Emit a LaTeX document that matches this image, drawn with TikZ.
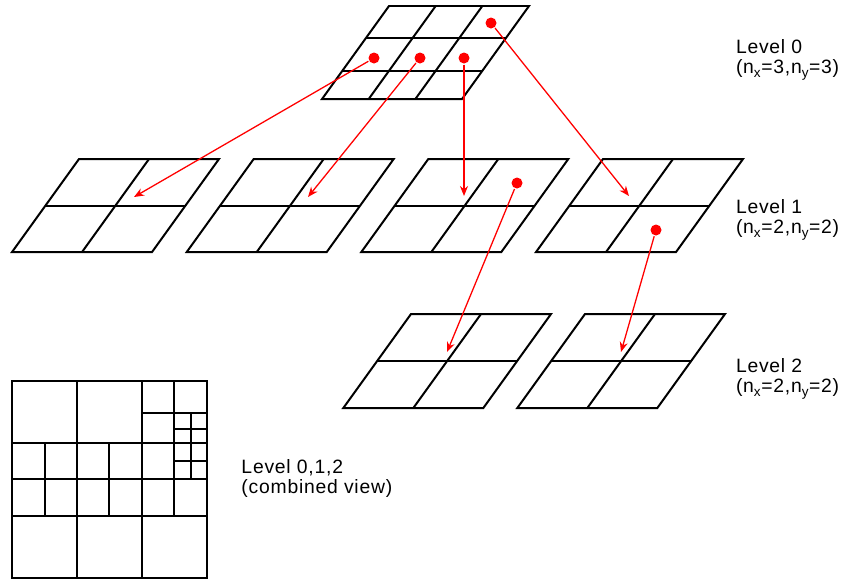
\documentclass[tikz,border=0pt]{standalone}
\usepackage{fontspec}
\setmainfont{Liberation Sans}
\newfontfamily\lblfont[LetterSpace=4]{Liberation Sans}
\usetikzlibrary{arrows.meta}

\begin{document}
\begin{tikzpicture}[x=0.03cm,y=-0.03cm,line width=1.7pt,
	dot/.style={circle,fill=red,draw=none,inner sep=0pt,minimum size=0.33cm},
	link/.style={red,line width=1.1pt,-{Stealth[length=0.3cm,width=0.24cm]}},
	lbl/.style={anchor=north west,inner sep=0pt,align=left,font=\lblfont\fontsize{16.5pt}{17.9pt}\selectfont}]
	\useasboundingbox (0,0) rectangle (843,579);

	% level 0
	\begin{scope}[shift={(389,6)},xslant=0.72]
		\draw (0,0) rectangle (140,93);
		\foreach \i in {1,2} {
			\draw (\i*46.67,0) -- (\i*46.67,93);
		}
		\foreach \y in {32,65} {
			\draw (0,\y) -- (140,\y);
		}
	\end{scope}

	% level 1
	\foreach \px in {79,253.7,428.3,603} {
		\begin{scope}[shift={(\px,159)},xslant=0.72]
			\draw (0,0) rectangle (140,93);
			\draw (70,0) -- (70,93);
			\draw (0,46.5) -- (140,46.5);
		\end{scope}
	}

	% level 2
	\foreach \px in {411,585} {
		\begin{scope}[shift={(\px,314)},xslant=0.72]
			\draw (0,0) rectangle (140,94);
			\draw (70,0) -- (70,94);
			\draw (0,47) -- (140,47);
		\end{scope}
	}

	% combined view
	\draw (12,381) rectangle (207,578);
	\foreach \x in {77,142} {
		\draw (\x,381) -- (\x,578);
	}
	\foreach \y in {443,479,516} {
		\draw (12,\y) -- (207,\y);
	}
	\foreach \x in {45,109} {
		\draw (\x,443) -- (\x,516);
	}
	\draw (174,381) -- (174,516);
	\draw (142,413) -- (207,413);
	\draw (191,413) -- (191,479);
	\foreach \y in {429,461} {
		\draw (174,\y) -- (207,\y);
	}

	% refinement links
	\node[dot] (d_0) at (374,58) {};
	\node[dot] (d_1) at (420,58) {};
	\node[dot] (d_2) at (464,58) {};
	\node[dot] (d_3) at (491,23) {};
	\node[dot] (d_4) at (517,183) {};
	\node[dot] (d_5) at (656,230) {};
	\coordinate (t_0) at (134,197);
	\coordinate (t_1) at (308,197);
	\coordinate (t_2) at (464,196);
	\coordinate (t_3) at (629,196);
	\coordinate (t_4) at (447,352);
	\coordinate (t_5) at (621,352);
	\foreach \i in {0,...,5} {
		\draw[link] (d_\i) -- (t_\i);
	}

	\node[lbl] (lab_0) at (735,38) {Level 0\\(n\textsubscript{x}=3,n\textsubscript{y}=3)};
	\node[lbl] (lab_1) at (735,198) {Level 1\\(n\textsubscript{x}=2,n\textsubscript{y}=2)};
	\node[lbl] (lab_2) at (735,357) {Level 2\\(n\textsubscript{x}=2,n\textsubscript{y}=2)};
	\node[lbl] (lab_c) at (240.5,458) {Level 0,1,2\\(combined view)};
\end{tikzpicture}
\end{document}
